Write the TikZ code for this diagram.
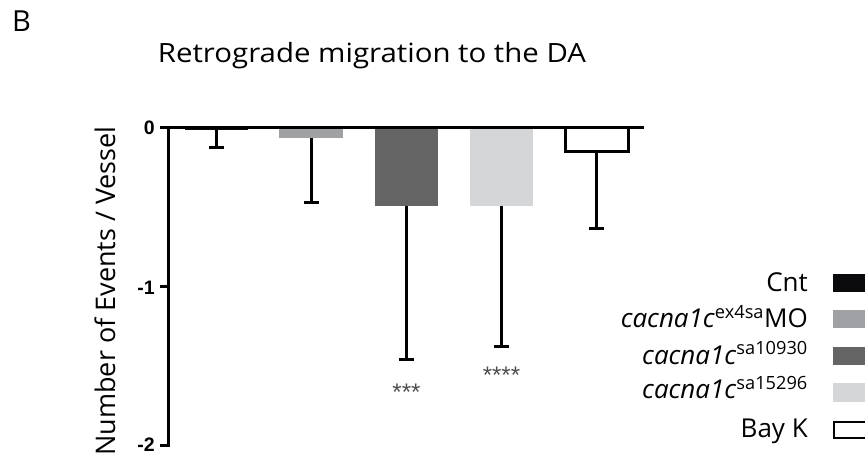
\documentclass[tikz,border=0pt]{standalone}
\usepackage{fontspec}
\setmainfont{Open Sans}
\newfontfamily\tickfont{Liberation Sans}
\usetikzlibrary{positioning}
\definecolor{moGrey}{HTML}{A0A1A4}
\definecolor{saDark}{HTML}{636463}
\definecolor{saLight}{HTML}{D5D6D8}
\definecolor{cntBlack}{HTML}{0A0A0C}

\begin{document}
\begin{tikzpicture}[x=1pt,y=-1pt,
    axisline/.style={line width=3pt},
    errline/.style={line width=3pt},
    ticklabel/.style={anchor=east,inner sep=0.5pt,font=\tickfont\bfseries\fontsize{19.5}{19.5}\selectfont},
    legendtext/.style={anchor=base east,inner sep=0pt,font=\fontsize{26}{26}\selectfont},
    starlabel/.style={anchor=base,inner sep=0pt,text=black!70,font=\tickfont\fontsize{24}{24}\selectfont}]
    \useasboundingbox (0,0) rectangle (865,454);
    % Panel letter and title
    \node[anchor=base west,inner sep=0pt,font=\fontsize{29}{29}\selectfont] (panel) at (12,32) {B};
    \node[anchor=base,inner sep=0pt,xscale=1.11,font=\fontsize{26.5}{26.5}\selectfont] (title) at (372,63) {Retrograde migration to the DA};
    % Y label
    \node[anchor=base,inner sep=0pt,rotate=90,font=\fontsize{27}{27}\selectfont] (ylabel) at (115,291) {Number of Events / Vessel};
    % Bars
    \fill[cntBlack] (185,128) rectangle (248,130.5);
    \fill[moGrey] (279,128) rectangle (343,138);
    \fill[saDark] (375,128) rectangle (438,206);
    \fill[saLight] (470,128) rectangle (533,206);
    \draw[line width=3pt,fill=white] (565,128) rectangle (628,152);
    % Error bars
    \draw[errline] (216.5,128) -- (216.5,148);
    \draw[errline] (209,148) -- (224,148);
    \draw[errline] (311,138) -- (311,203);
    \draw[errline] (303.5,203) -- (318.5,203);
    \draw[errline] (406.5,206) -- (406.5,360);
    \draw[errline] (399,360) -- (414,360);
    \draw[errline] (501.5,206) -- (501.5,347);
    \draw[errline] (494,347) -- (509,347);
    \draw[errline] (596.5,152) -- (596.5,229);
    \draw[errline] (589,229) -- (604,229);
    % Axes
    \draw[axisline] (168,128) -- (644,128);
    \draw[axisline] (168,126.5) -- (168,446.5);
    \draw[axisline] (160,128) -- (168,128);
    \draw[axisline] (160,287) -- (168,287);
    \draw[axisline] (160,445) -- (168,445);
    \node[ticklabel] (t0) at (155.5,128) {0};
    \node[ticklabel] (t1) at (155.5,288) {-1};
    \node[ticklabel] (t2) at (155.5,444.5) {-2};
    % Stars
    \node[starlabel] (stars3) at (406.5,400) {***};
    \node[starlabel] (stars4) at (501.5,383) {****};
    % Legend
    \node[legendtext] (lcnt) at (808,292) {Cnt};
    \node[legendtext] (lmo) at (808,328) {\textit{cacna1c}\textsuperscript{ex4sa}MO};
    \node[legendtext] (lsa1) at (808,364) {\textit{cacna1c}\textsuperscript{sa10930}};
    \node[legendtext] (lsa2) at (808,399) {\textit{cacna1c}\textsuperscript{sa15296}};
    \node[legendtext] (lbay) at (808,437) {Bay K};
    \fill[cntBlack] (833,274) rectangle (880,292);
    \fill[moGrey] (833,310) rectangle (880,328);
    \fill[saDark] (833,347) rectangle (880,365);
    \fill[saLight] (833,383) rectangle (880,402);
    \draw[line width=1.5pt,fill=white] (834,422) rectangle (880,438);
\end{tikzpicture}
\end{document}
